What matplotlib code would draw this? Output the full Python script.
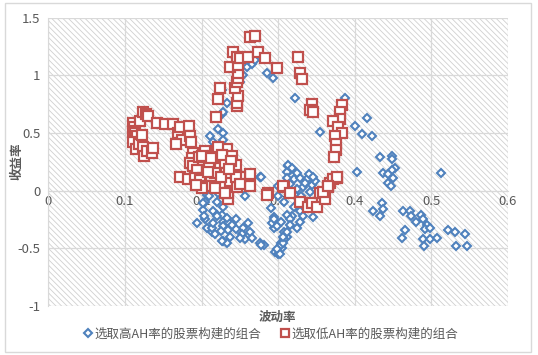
import matplotlib
matplotlib.use('Agg')
import matplotlib.pyplot as plt
from matplotlib.patches import Rectangle
from matplotlib.lines import Line2D

plt.rcParams['font.family'] = ['Noto Sans CJK SC', 'DejaVu Sans']
plt.rcParams['hatch.linewidth'] = 0.6
plt.rcParams['hatch.color'] = '#D0D0D0'

# high AH-premium portfolios (blue diamonds)
hi_x = [0.211, 0.215, 0.221, 0.228, 0.228, 0.226, 0.228, 0.233, 0.226, 0.250,
        0.254, 0.259, 0.266, 0.270, 0.285, 0.293, 0.322, 0.355, 0.387, 0.400,
        0.409, 0.416, 0.422, 0.403,
        0.433, 0.448, 0.449, 0.452, 0.448, 0.437, 0.443, 0.450, 0.443, 0.447,
        0.513, 0.435, 0.424, 0.437, 0.433, 0.463, 0.472, 0.474, 0.480, 0.487,
        0.489, 0.494, 0.492, 0.498, 0.466, 0.461, 0.489, 0.490, 0.498, 0.507,
        0.522, 0.531, 0.544, 0.532, 0.546,
        0.313, 0.315, 0.311, 0.320, 0.328, 0.337, 0.333, 0.344, 0.324, 0.342,
        0.311, 0.316, 0.322, 0.307, 0.320, 0.328, 0.318, 0.328, 0.333, 0.346,
        0.294, 0.298, 0.294, 0.307, 0.311, 0.303, 0.296, 0.300, 0.305, 0.281,
        0.311, 0.315, 0.308, 0.304, 0.276, 0.278, 0.254, 0.250, 0.254, 0.256,
        0.313, 0.325, 0.340, 0.348,
        0.207, 0.205, 0.202, 0.194, 0.204, 0.215, 0.220, 0.226, 0.207, 0.213,
        0.218, 0.228, 0.235, 0.228, 0.235, 0.237, 0.228, 0.233, 0.254, 0.263,
        0.253, 0.256, 0.266, 0.276, 0.278, 0.292, 0.298, 0.295, 0.304, 0.298,
        0.302, 0.306, 0.306, 0.311, 0.222, 0.235, 0.220, 0.228, 0.202, 0.203,
        0.213, 0.226, 0.250, 0.245, 0.220, 0.233, 0.210, 0.215, 0.208,
        0.300, 0.330, 0.338, 0.315, 0.325, 0.290, 0.335, 0.345, 0.318, 0.300,
        0.240, 0.245, 0.260, 0.225, 0.215]
hi_y = [0.47, 0.42, 0.53, 0.50, 0.44, 0.66, 0.68, 0.76, 0.87, 0.94,
        1.00, 1.07, 1.10, 1.13, 1.02, 0.98, 0.80, 0.51, 0.80, 0.56,
        0.49, 0.63, 0.47, 0.16,
        0.29, 0.30, 0.27, 0.20, 0.18, 0.15, 0.14, 0.11, 0.07, 0.04,
        0.15, -0.11, -0.18, -0.16, -0.22, -0.18, -0.18, -0.22, -0.27, -0.21,
        -0.25, -0.30, -0.33, -0.32, -0.34, -0.41, -0.42, -0.48, -0.42, -0.41,
        -0.34, -0.36, -0.38, -0.48, -0.48,
        0.21, 0.18, 0.16, 0.10, 0.11, 0.10, 0.03, 0.05, 0.01, -0.01,
        0.11, 0.06, -0.04, -0.10, -0.14, -0.18, -0.22, -0.27, -0.22, -0.23,
        -0.23, -0.29, -0.32, -0.36, -0.40, -0.45, -0.53, -0.55, -0.50, -0.47,
        -0.21, -0.25, -0.42, -0.47, 0.12, 0.12, 0.10, 0.13, 0.01, -0.05,
        0.22, 0.15, 0.14, 0.08,
        -0.04, -0.10, -0.17, -0.28, -0.25, -0.18, -0.21, -0.21, -0.32, -0.36,
        -0.38, -0.27, -0.27, -0.31, -0.34, -0.40, -0.44, -0.45, -0.32, -0.36,
        -0.38, -0.42, -0.41, -0.45, -0.47, -0.28, -0.31, -0.25, -0.27, -0.51,
        -0.55, -0.45, -0.40, -0.36, -0.02, -0.04, -0.10, -0.14, -0.11, -0.22,
        -0.32, -0.44, -0.41, -0.33, -0.22, -0.24, -0.05, 0.01, 0.03,
        -0.05, -0.05, -0.12, -0.30, -0.32, -0.15, 0.07, 0.12, 0.20, 0.04,
        -0.30, -0.25, -0.28, -0.35, -0.28]

# low AH-premium portfolios (red squares)
lo_x = [0.110, 0.112, 0.110, 0.113, 0.116, 0.111, 0.114, 0.118, 0.120, 0.123,
        0.127, 0.130, 0.122, 0.124, 0.125, 0.128, 0.135, 0.137, 0.142, 0.152,
        0.163, 0.169, 0.172, 0.174, 0.167, 0.184, 0.185, 0.186, 0.189, 0.187,
        0.185, 0.189, 0.172, 0.182, 0.194,
        0.205, 0.220, 0.233, 0.202, 0.220, 0.240, 0.194, 0.207, 0.224, 0.240,
        0.191, 0.202, 0.215, 0.228, 0.241, 0.263, 0.263, 0.198, 0.228, 0.237,
        0.235, 0.235, 0.210, 0.215, 0.230, 0.196, 0.212, 0.245, 0.232, 0.250,
        0.222, 0.218,
        0.200, 0.212, 0.226, 0.238, 0.206, 0.218, 0.246, 0.200, 0.225, 0.245,
        0.236, 0.208, 0.193, 0.250, 0.230,
        0.219, 0.221, 0.224, 0.246, 0.246, 0.248, 0.244, 0.246, 0.248, 0.248,
        0.237, 0.248, 0.241, 0.246, 0.250, 0.261, 0.274, 0.283, 0.263, 0.270,
        0.299, 0.326, 0.329, 0.331,
        0.344, 0.342, 0.346, 0.383, 0.381, 0.381, 0.372, 0.378, 0.383, 0.374,
        0.375, 0.375, 0.373,
        0.287, 0.285, 0.307, 0.306, 0.315, 0.328, 0.339, 0.344, 0.350, 0.355,
        0.361, 0.365, 0.368, 0.372, 0.377, 0.377, 0.359, 0.365]
lo_y = [0.59, 0.55, 0.52, 0.50, 0.47, 0.42, 0.36, 0.40, 0.60, 0.68,
        0.66, 0.65, 0.48, 0.38, 0.30, 0.34, 0.33, 0.37, 0.59, 0.58,
        0.58, 0.50, 0.55, 0.44, 0.40, 0.56, 0.47, 0.42, 0.33, 0.28,
        0.24, 0.21, 0.12, 0.10, 0.12,
        0.34, 0.34, 0.36, 0.25, 0.27, 0.30, 0.18, 0.18, 0.20, 0.18,
        0.11, 0.11, 0.07, 0.10, 0.08, 0.14, 0.04, 0.09, 0.05, 0.08,
        -0.07, -0.02, 0.22, 0.30, 0.24, 0.29, 0.13, 0.22, 0.15, 0.12,
        0.38, 0.15,
        0.30, 0.28, 0.31, 0.26, 0.04, 0.02, 0.03, 0.02, 0.12, 0.12,
        0.19, 0.16, 0.05, 0.06, -0.02,
        0.64, 0.79, 0.89, 0.73, 0.76, 0.82, 0.89, 0.94, 0.98, 1.02,
        1.07, 1.09, 1.20, 1.16, 1.15, 1.16, 1.20, 1.15, 1.33, 1.34,
        1.06, 1.16, 1.02, 0.97,
        0.75, 0.70, 0.68, 0.74, 0.68, 0.62, 0.60, 0.55, 0.50, 0.47,
        0.40, 0.35, 0.29,
        -0.02, -0.04, 0.03, 0.04, -0.02, -0.10, -0.14, -0.11, -0.14, -0.02,
        -0.07, 0.03, 0.07, 0.10, 0.11, 0.12, -0.01, 0.04]

x_ticks = [0, 0.1, 0.2, 0.3, 0.4, 0.5, 0.6]
y_ticks = [-1, -0.5, 0, 0.5, 1, 1.5]
hi_name = '选取高AH率的股票构建的组合'
lo_name = '选取低AH率的股票构建的组合'

blue = '#4F81BD'
red = '#C0504D'
grey_txt = '#595959'
grid_c = '#D9D9D9'

fig = plt.figure(figsize=(5.38, 3.55), dpi=100)
ax = fig.add_axes([0.0901, 0.138, 0.8541, 0.8127])

# hatched plot area
ax.add_patch(Rectangle((0, 0), 1, 1, transform=ax.transAxes, facecolor='white',
                       edgecolor='#D0D0D0', hatch='\\\\\\\\\\\\', lw=0, zorder=0.1))

ax.plot(hi_x, hi_y, linestyle='none', marker='D', markersize=4.5,
        markerfacecolor='white', markeredgecolor=blue, markeredgewidth=1.5, zorder=3)
ax.plot(lo_x, lo_y, linestyle='none', marker='s', markersize=6.8,
        markerfacecolor='white', markeredgecolor=red, markeredgewidth=1.6, zorder=4)

ax.set_xlim(0, 0.6)
ax.set_ylim(-1, 1.5)
ax.set_xticks(x_ticks)
ax.set_xticklabels(['0', '0.1', '0.2', '0.3', '0.4', '0.5', '0.6'])
ax.set_yticks(y_ticks)
ax.set_yticklabels(['-1', '-0.5', '0', '0.5', '1', '1.5'])
ax.grid(True, color=grid_c, linewidth=0.9)
ax.set_axisbelow(True)

for s in ['top', 'right']:
    ax.spines[s].set_visible(False)
ax.spines['bottom'].set_position(('data', 0))
ax.spines['bottom'].set_color(grid_c)
ax.spines['left'].set_color(grid_c)
ax.tick_params(length=0, labelsize=9.5, colors=grey_txt)
ax.tick_params(axis='x', pad=3)
ax.tick_params(axis='y', pad=6)

fig.text(277 / 538, 1 - 317 / 355, '波动率', ha='center', va='center',
         fontsize=9, fontweight='bold', color=grey_txt)
fig.text(17 / 538, 1 - 161 / 355, '收益率', ha='center', va='center', rotation=90,
         fontsize=9, fontweight='bold', color=grey_txt)

handles = [Line2D([], [], linestyle='none', marker='D', markersize=4.2, markerfacecolor='white',
                  markeredgecolor=blue, markeredgewidth=1.5),
           Line2D([], [], linestyle='none', marker='s', markersize=6.2, markerfacecolor='white',
                  markeredgecolor=red, markeredgewidth=1.6)]
leg = fig.legend(handles, [hi_name, lo_name], loc='center', bbox_to_anchor=(271 / 538, 1 - 334 / 355),
                 ncol=2, frameon=False, fontsize=9, handlelength=0.6, handletextpad=0.2,
                 columnspacing=1.6, borderpad=0)
for t in leg.get_texts():
    t.set_color(grey_txt)

fig.patches.append(Rectangle((5 / 538, 1 - 352 / 355), 526 / 538, 349 / 355, transform=fig.transFigure,
                             fill=False, edgecolor=grid_c, linewidth=1))

plt.savefig('out.png', dpi=100)
